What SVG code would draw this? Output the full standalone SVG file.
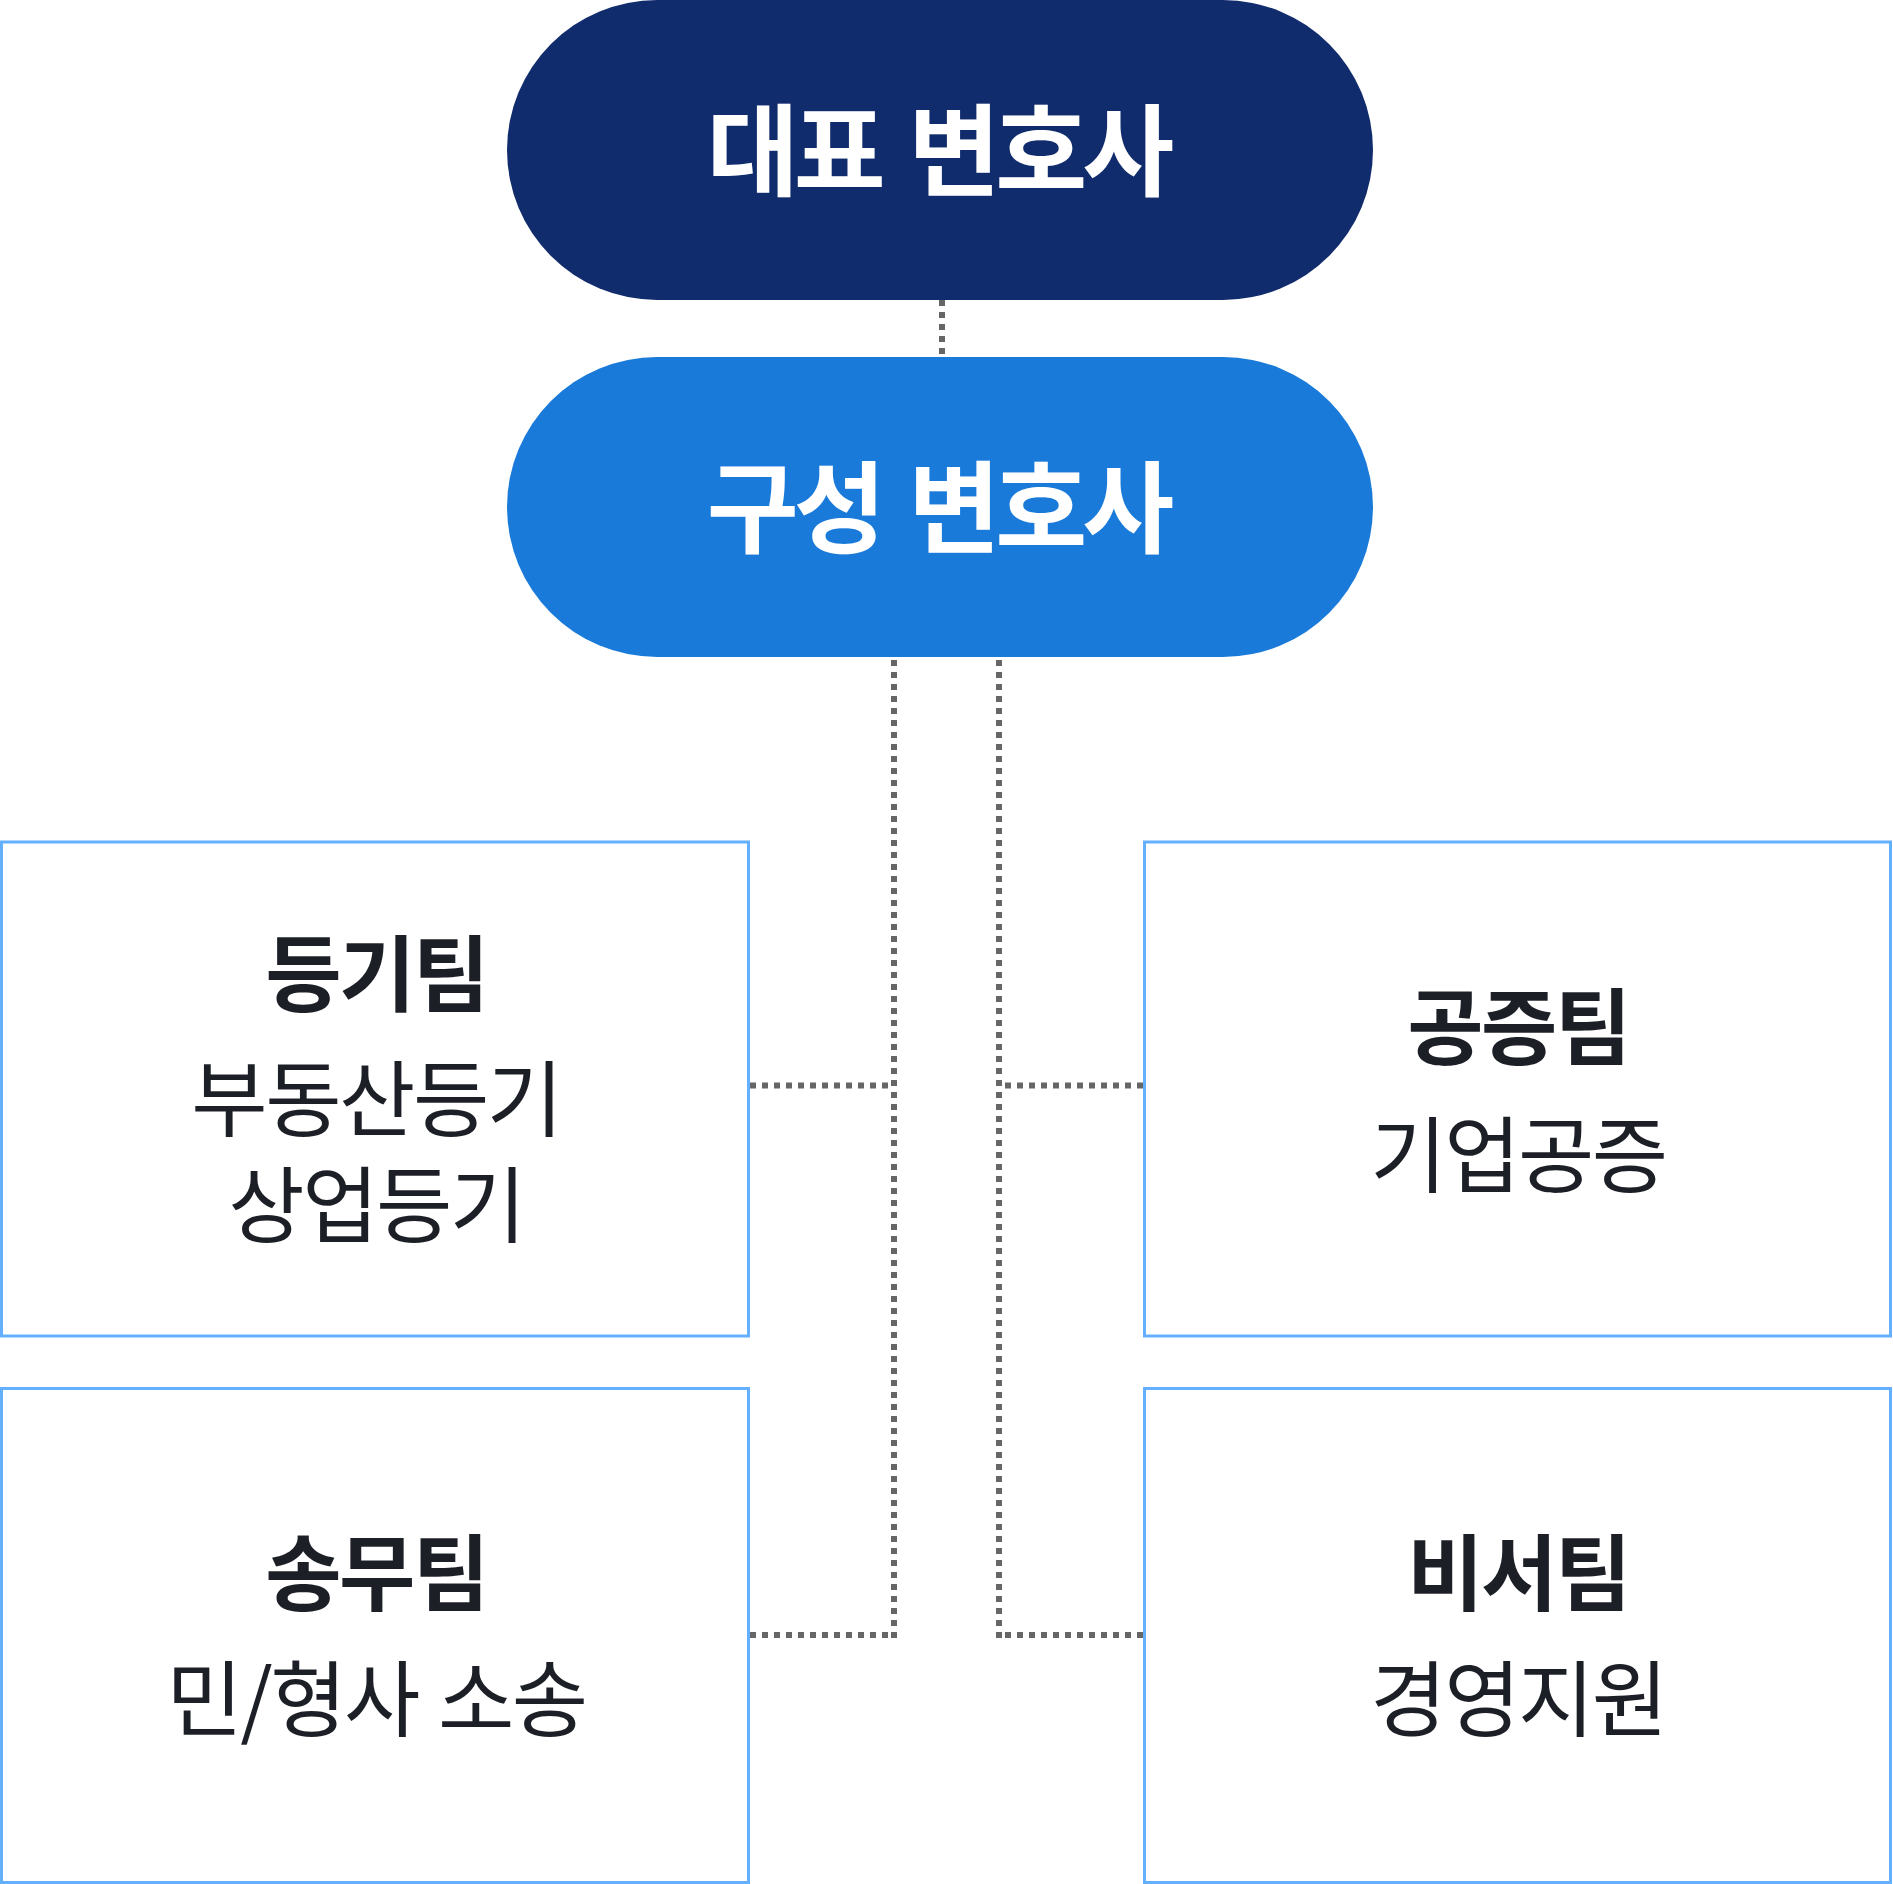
<svg xmlns="http://www.w3.org/2000/svg" width="1893" height="1884" viewBox="0 0 1893 1884">
<style>
.box{fill:#fff;stroke:#64B0FF;stroke-width:3}
.conn{stroke:#666;stroke-width:6;stroke-dasharray:6 6;fill:none}
.t{font-family:"Noto Sans CJK KR","Noto Sans",sans-serif;text-anchor:middle}
.big{font-size:100px;font-weight:700;fill:#fff;letter-spacing:-5px;word-spacing:10px}
.h{font-size:83px;font-weight:700;fill:#1C1F26;letter-spacing:-2.5px}
.s{font-size:83px;font-weight:400;fill:#1C1F26;letter-spacing:-2.5px;word-spacing:4px}
</style>
<rect width="1893" height="1884" fill="#fff"/>
<g id="connectors">
<line class="conn" x1="942" y1="300" x2="942" y2="357"/>
<line class="conn" x1="894" y1="660" x2="894" y2="1638"/>
<line class="conn" x1="999" y1="660" x2="999" y2="1638"/>
<line class="conn" x1="750" y1="1085.5" x2="894" y2="1085.5"/>
<line class="conn" x1="750" y1="1635" x2="894" y2="1635"/>
<line class="conn" x1="1143" y1="1085.5" x2="999" y2="1085.5"/>
<line class="conn" x1="1143" y1="1635" x2="999" y2="1635"/>
</g>
<g id="ceo">
<rect x="507" y="0" width="866" height="300" rx="150" fill="#112C6C"/>
<text class="t big" x="938" y="188">대표 변호사</text>
</g>
<g id="lawyers">
<rect x="507" y="357" width="866" height="300" rx="150" fill="#1A7AD9"/>
<text class="t big" x="938" y="545">구성 변호사</text>
</g>
<g id="registry">
<rect class="box" x="1.5" y="842" width="747" height="494"/>
<text class="t h" x="376" y="1005">등기팀</text>
<text class="t s" x="376" y="1130">부동산등기</text>
<text class="t s" x="376" y="1236">상업등기</text>
</g>
<g id="notary">
<rect class="box" x="1144.5" y="842" width="746" height="494"/>
<text class="t h" x="1518" y="1058">공증팀</text>
<text class="t s" x="1518" y="1186">기업공증</text>
</g>
<g id="litigation">
<rect class="box" x="1.5" y="1388.5" width="747" height="494"/>
<text class="t h" x="376" y="1604">송무팀</text>
<text class="t s" x="376" y="1730">민/형사 소송</text>
</g>
<g id="secretary">
<rect class="box" x="1144.5" y="1388.5" width="746" height="494"/>
<text class="t h" x="1518" y="1604">비서팀</text>
<text class="t s" x="1518" y="1730">경영지원</text>
</g>
</svg>
